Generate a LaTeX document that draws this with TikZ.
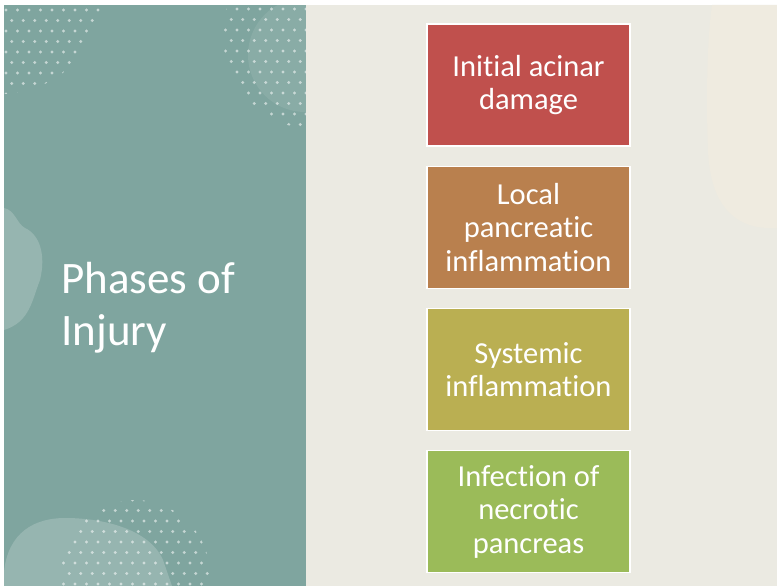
\documentclass[tikz,border=0pt]{standalone}
\usepackage{fontspec}
\setmainfont{Carlito}[Ligatures={NoCommon}]
\usetikzlibrary{positioning}
\definecolor{panelteal}{RGB}{127,165,159}
\definecolor{slidebeige}{RGB}{235,234,226}
\definecolor{patchcream}{RGB}{239,235,224}
\definecolor{phasered}{RGB}{192,80,77}
\definecolor{phaseorange}{RGB}{185,128,78}
\definecolor{phaseolive}{RGB}{186,175,82}
\definecolor{phasegreen}{RGB}{155,187,89}

\begin{document}
\begin{tikzpicture}[
    x=1pt, y=-1pt,
    phase/.style={
        rectangle, draw=white, line width=1.2pt,
        minimum width=203pt, minimum height=122pt,
        align=center, text=white, font=\fontsize{30.5}{33.5}\selectfont
    },
    title/.style={
        align=left, text=white, font=\fontsize{45}{52}\selectfont
    },
    dot/.style={fill=white, fill opacity=0.55},
    blob/.style={fill=white, fill opacity=0.18}
]

% --- slide background ---
\fill[white] (0,0) rectangle (777,586);
\useasboundingbox (0,0) rectangle (777,586);
\fill[slidebeige] (306,5) rectangle (777,586);
\fill[patchcream] (712,5) .. controls (707,40) and (706,100) .. (708,150)
    .. controls (710,205) and (735,228) .. (770,228) -- (777,228) -- (777,5) -- cycle;
\fill[panelteal] (4,5) rectangle (306,586);

% --- soft shapes on the panel ---
\begin{scope}
    \clip (4,5) rectangle (306,586);
    \fill[blob] (4,208) .. controls (15,210) and (17,224) .. (25,228)
        .. controls (40,235) and (46,255) .. (40,280)
        .. controls (32,300) and (30,322) .. (4,330) -- cycle;
    \fill[blob] (4,586) -- (4,572) .. controls (8,532) and (35,518) .. (65,518)
        .. controls (105,518) and (150,530) .. (163,560) -- (172,586) -- cycle;
    \fill[white, fill opacity=0.08] (305,55) circle (57pt);
\end{scope}

% --- dotted patches ---
\begin{scope}
    \clip (4,5) rectangle (306,586);
    \clip (0,-10) circle (104pt);
    \foreach \i in {0,...,10}{
        \foreach \j in {0,...,9}{
            \fill[dot] ({6+\i*11.5+mod(\j,2)*5.75},{10+\j*10.5}) circle (1.6pt);
        }
    }
\end{scope}
\begin{scope}
    \clip (4,5) rectangle (306,586);
    \clip (318,35) circle (95pt);
    \foreach \i in {0,...,8}{
        \foreach \j in {0,...,13}{
            \fill[dot] ({214+\i*11.5+mod(\j,2)*5.75},{9+\j*10.5}) circle (1.6pt);
        }
    }
\end{scope}
\begin{scope}
    \clip (4,5) rectangle (306,586);
    \clip (135,575) circle (75pt);
    \foreach \i in {0,...,14}{
        \foreach \j in {0,...,9}{
            \fill[dot] ({52+\i*11.5+mod(\j,2)*5.75},{500+\j*10.5}) circle (1.6pt);
        }
    }
\end{scope}

% --- title ---
\node[title, anchor=base west] (heading) at (58,345) {Phases of\\Injury};

% --- phases ---
\node[phase, fill=phasered] (initial) at (528.5,85) {Initial acinar\\damage};
\node[phase, fill=phaseorange, below=19pt of initial] (local) {Local\\pancreatic\\inflammation};
\node[phase, fill=phaseolive, below=19pt of local] (systemic) {Systemic\\inflammation};
\node[phase, fill=phasegreen, below=19pt of systemic] (infection) {Infection of\\necrotic\\pancreas};

\end{tikzpicture}
\end{document}
